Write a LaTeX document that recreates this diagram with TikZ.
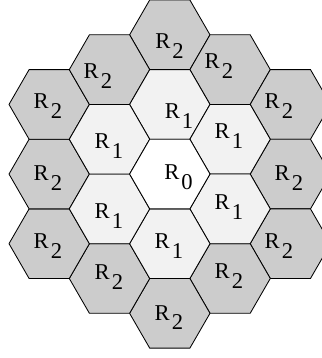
\documentclass[tikz,border=0pt]{standalone}
\usepackage{fontspec}
\setmainfont{Liberation Serif}
\newfontfamily\cellfont{Liberation Serif}[Scale=1.0]
\usepackage{xcolor}
\usepackage{tikz}
\definecolor{CellOuter}{HTML}{CCCCCC}
\definecolor{CellInner}{HTML}{F2F2F2}
\newcommand{\cellname}[1]{R\kern1.5pt\raisebox{-7pt}{#1}}

\begin{document}
\begin{tikzpicture}[
  hexcell/.style={draw=black,line width=0.6pt,line join=miter},
  outer/.style={hexcell,fill=CellOuter},
  inner/.style={hexcell,fill=CellInner},
  core/.style={hexcell,fill=white},
  lab/.style={anchor=base west,inner sep=0pt,font=\cellfont\fontsize{16pt}{19pt}\selectfont}
]
\useasboundingbox (-4.224,-4.576) rectangle (3.786,4.33);
\clip (-4.224,-4.576) rectangle (3.786,4.33);

% outer ring of cells
\foreach \x/\y in {0/3.464,1.5/2.598,3/1.732,3/0,3/-1.732,1.5/-2.598,
                   0/-3.464,-1.5/-2.598,-3/-1.732,-3/0,-3/1.732,-1.5/2.598}
  \draw[outer] (\x,\y) ++(0:1) -- ++(120:1) -- ++(180:1) -- ++(240:1) -- ++(300:1) -- ++(0:1) -- cycle;
% first ring
\foreach \x/\y in {0/1.732,1.5/0.866,1.5/-0.866,0/-1.732,-1.5/-0.866,-1.5/0.866}
  \draw[inner] (\x,\y) ++(0:1) -- ++(120:1) -- ++(180:1) -- ++(240:1) -- ++(300:1) -- ++(0:1) -- cycle;
% centre cell
\draw[core] (0,0) ++(0:1) -- ++(120:1) -- ++(180:1) -- ++(240:1) -- ++(300:1) -- ++(0:1) -- cycle;

% labels
\node[lab] (c0) at (-0.144,-0.131) {\cellname{0}};

\node[lab] (top1) at (-0.132,1.387) {\cellname{1}};
\node[lab] (ul1) at (-1.878,0.641) {\cellname{1}};
\node[lab] (ur1) at (1.107,0.889) {\cellname{1}};
\node[lab] (ll1) at (-1.878,-1.101) {\cellname{1}};
\node[lab] (lr1) at (1.107,-0.877) {\cellname{1}};
\node[lab] (bot1) at (-0.386,-1.847) {\cellname{1}};

\node[lab] (top2) at (-0.368,3.128) {\cellname{2}};
\node[lab] (ul2) at (-2.152,2.382) {\cellname{2}};
\node[lab] (ur2) at (0.858,2.631) {\cellname{2}};
\node[lab] (ful2) at (-3.396,1.636) {\cellname{2}};
\node[lab] (fur2) at (2.351,1.636) {\cellname{2}};
\node[lab] (left2) at (-3.396,-0.160) {\cellname{2}};
\node[lab] (right2) at (2.600,-0.160) {\cellname{2}};
\node[lab] (fll2) at (-3.396,-1.847) {\cellname{2}};
\node[lab] (flr2) at (2.351,-1.847) {\cellname{2}};
\node[lab] (ll2) at (-1.878,-2.618) {\cellname{2}};
\node[lab] (lr2) at (1.107,-2.593) {\cellname{2}};
\node[lab] (bot2) at (-0.386,-3.631) {\cellname{2}};
\end{tikzpicture}
\end{document}
